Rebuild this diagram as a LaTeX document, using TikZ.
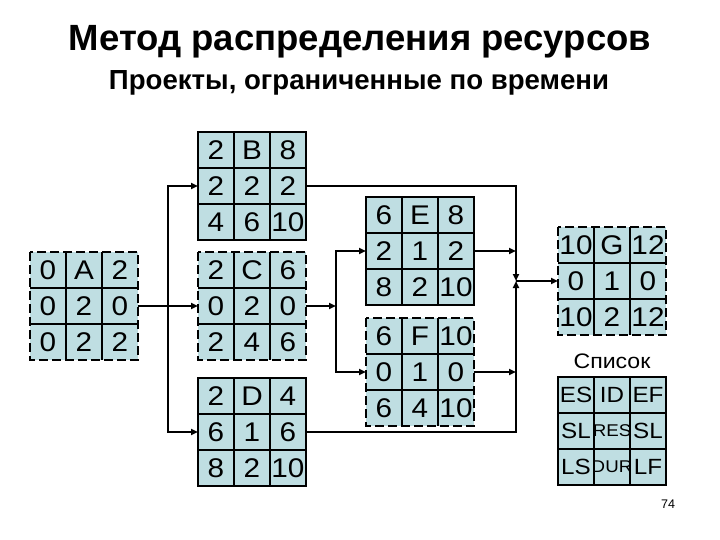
\documentclass[tikz,border=0pt]{standalone}
\usepackage{fontspec}
\setmainfont{Liberation Sans}
\newfontfamily\widefam[FakeStretch=1.1]{Liberation Sans}
\usetikzlibrary{matrix,arrows.meta,calc}
\definecolor{cellfill}{RGB}{191,222,226}
\newcommand{\cellfont}{\widefam\fontsize{27}{27}\selectfont}
\newcommand{\legfont}{\widefam\fontsize{22}{22}\selectfont}
\newcommand{\legsmall}{\widefam\fontsize{17}{17}\selectfont}
\newcommand{\gridin}[1]{%
  \draw[inner line] ($(#1.north west)!1/3!(#1.north east)$) -- ($(#1.south west)!1/3!(#1.south east)$)
    ($(#1.north west)!2/3!(#1.north east)$) -- ($(#1.south west)!2/3!(#1.south east)$)
    ($(#1.north west)!1/3!(#1.south west)$) -- ($(#1.north east)!1/3!(#1.south east)$)
    ($(#1.north west)!2/3!(#1.south west)$) -- ($(#1.north east)!2/3!(#1.south east)$);}
\tikzset{
  gridbox/.style={matrix of nodes, inner sep=0pt, outer sep=0pt, column sep=0pt, row sep=0pt,
    nodes={fill=cellfill, minimum width=36pt, minimum height=36pt, inner sep=0pt, outer sep=0pt,
      anchor=center, font=\cellfont}},
  legendbox/.style={gridbox, nodes={font=\legfont}},
  inner line/.style={line width=1.6pt},
  frame/.style={line width=2.4pt},
  dashframe/.style={frame, dash pattern=on 9pt off 4pt},
  conn/.style={line width=2pt},
  arr/.style={conn, -{Triangle[length=7pt,width=6pt]}},
}
\begin{document}
\begin{tikzpicture}[x=1pt,y=-1pt]
\useasboundingbox (0,0) rectangle (720,540);
\node[font=\bfseries\fontsize{36.5}{40}\selectfont] (title) at (360,42) {Метод распределения ресурсов};
\node[font=\bfseries\fontsize{27.6}{30}\selectfont] (sub) at (359,83) {Проекты, ограниченные по времени};

\matrix (A) [gridbox] at (84,306) {0 & A & 2\\ 0 & 2 & 0\\ 0 & 2 & 2\\};
\matrix (B) [gridbox] at (252,186) {2 & B & 8\\ 2 & 2 & 2\\ 4 & 6 & 10\\};
\matrix (C) [gridbox] at (252,306) {2 & C & 6\\ 0 & 2 & 0\\ 2 & 4 & 6\\};
\matrix (D) [gridbox] at (252,432) {2 & D & 4\\ 6 & 1 & 6\\ 8 & 2 & 10\\};
\matrix (E) [gridbox] at (420,251) {6 & E & 8\\ 2 & 1 & 2\\ 8 & 2 & 10\\};
\matrix (F) [gridbox] at (420,372) {6 & F & 10\\ 0 & 1 & 0\\ 6 & 4 & 10\\};
\matrix (G) [gridbox] at (612,281) {10 & G & 12\\ 0 & 1 & 0\\ 10 & 2 & 12\\};
\matrix (L) [legendbox] at (612,431) {ES & ID & EF\\ SL & |[font=\legsmall]| \makebox[0pt]{RES} & SL\\ LS & |[font=\legsmall]| \makebox[0pt]{DUR} & LF\\};
\node[font=\widefam\fontsize{21}{21}\selectfont] (list) at (612,361) {Список};
\node[font=\fontsize{12.5}{12.5}\selectfont] (page) at (668,504) {74};

\foreach \m in {A,B,C,D,E,F,G,L} {\gridin{\m}}
\foreach \m in {B,D,E,L} {\draw[frame] (\m.north west) rectangle (\m.south east);}
\foreach \m in {A,C,F,G} {\draw[dashframe] (\m.north west) rectangle (\m.south east);}

\coordinate (j1) at (168,0);
\coordinate (j2) at (336,0);
\coordinate (j3) at (516,0);
\draw[arr] (A.east) -- (A.east -| j1) |- (B.west);
\draw[arr] (A.east) -- (C.west);
\draw[arr] (A.east -| j1) |- (D.west);
\draw[arr] (C.east) -- (C.east -| j2);
\draw[arr] (C.east -| j2) |- (E.west);
\draw[arr] (C.east -| j2) |- (F.west);
\draw[arr] (B.east) -| (j3 |- G.west);
\draw[arr] (D.east) -| (j3 |- G.west);
\draw[arr] (E.east) -- (E.east -| j3);
\draw[arr] (F.east) -- (F.east -| j3);
\draw[arr] (j3 |- G.west) -- (G.west);
\end{tikzpicture}
\end{document}
